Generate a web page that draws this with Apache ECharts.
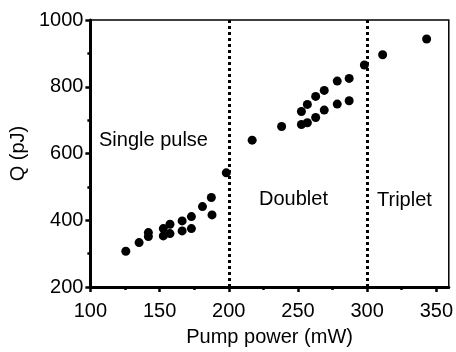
<!DOCTYPE html>
<html><head><meta charset="utf-8">
<script src="https://cdn.jsdelivr.net/npm/echarts@6/dist/echarts.min.js"></script>
<style>html,body{margin:0;padding:0;background:#fff}#c{width:456px;height:352px}</style>
</head><body><div id="c"></div>
<script>
const pumpPower = [125.6,135.2,141.9,141.9,152.7,152.7,157.5,157.5,166.3,166.3,173,173,181,187.9,187.4,198.2,216.9,238.2,252.5,252.5,256.8,256.8,262.8,262.8,269,269,278.4,278.4,287,287,298,311.2,343];
const qValues = [307,333,363,351,375,353,388,360,398,368,411,375,441,416,468,542,640,681,687,726,692,747,708,771,730,789,748,817,758,825,865,896,943];
const xTicks = [100,150,200,250,300,350];
const xMinorTicks = [125,175,225,275,325];
const regimeBoundaries = [200,300];
const regimeLabels = ['Single pulse','Doublet','Triplet'];

const font = 'Liberation Sans, Arial, sans-serif';
const fs = 20;
const chart = echarts.init(document.getElementById('c'));
chart.setOption({
  animation:false,
  grid:{left:90,right:5,top:20,bottom:64,show:true,borderColor:'#000',borderWidth:1.5,backgroundColor:'transparent'},
  xAxis:[{
    type:'value',min:100,max:359,position:'bottom',
    name:'Pump power (mW)',nameLocation:'middle',nameGap:40,
    nameTextStyle:{color:'#000',fontSize:fs,fontFamily:font},
    axisLine:{lineStyle:{color:'#000',width:3}},
    axisTick:{length:5,lineStyle:{color:'#000',width:2.5},customValues:xTicks},
    axisLabel:{color:'#000',fontSize:fs,fontFamily:font,margin:14,customValues:xTicks},
    splitLine:{show:false}
  },{
    type:'value',min:100,max:359,position:'bottom',
    axisLine:{show:false},
    axisTick:{length:3,lineStyle:{color:'#000',width:2.5},customValues:xMinorTicks},
    axisLabel:{show:false},
    splitLine:{show:false}
  }],
  yAxis:{
    type:'value',min:200,max:1000,interval:200,
    name:'Q (pJ)',nameLocation:'middle',nameGap:56,
    nameTextStyle:{color:'#000',fontSize:fs,fontFamily:font},
    axisLine:{lineStyle:{color:'#000',width:3}},
    axisTick:{length:5,lineStyle:{color:'#000',width:2.5}},
    minorTick:{show:true,splitNumber:2,length:3,lineStyle:{color:'#000',width:2.5}},
    axisLabel:{color:'#000',fontSize:fs,fontFamily:font,margin:7,formatter:v=>String(v)},
    splitLine:{show:false}
  },
  series:[{
    type:'scatter',
    data:pumpPower.map((x,i)=>[x,qValues[i]]),
    symbol:'circle',symbolSize:9,
    itemStyle:{color:'#000',opacity:1},
    markLine:{
      silent:true,symbol:'none',label:{show:false},
      lineStyle:{color:'#000',width:3,type:[3,3],cap:'butt',opacity:1},
      data:regimeBoundaries.map(v=>({xAxis:v}))
    }
  }],
  graphic:[
    {type:'text',x:99,y:140,style:{text:regimeLabels[0],font:fs+'px '+font,fill:'#000',verticalAlign:'middle'}},
    {type:'text',x:259,y:199,style:{text:regimeLabels[1],font:fs+'px '+font,fill:'#000',verticalAlign:'middle'}},
    {type:'text',x:377,y:200,style:{text:regimeLabels[2],font:fs+'px '+font,fill:'#000',verticalAlign:'middle'}}
  ]
});
</script></body></html>
